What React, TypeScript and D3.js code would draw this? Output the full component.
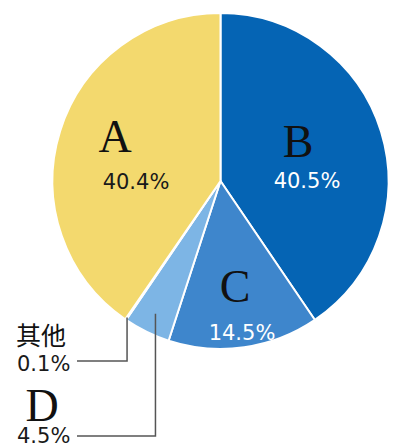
import React from "react";
import * as d3 from "d3";

const categories = ["B", "C", "D", "其他", "A"];
const values = [40.5, 14.5, 4.5, 0.1, 40.4];
const percentLabels = ["40.5%", "14.5%", "4.5%", "0.1%", "40.4%"];
const colors = ["#0564B4", "#3E86CC", "#7DB5E5", "#9CC4E8", "#F3D96E"];

export default function App() {
  const W = 406, H = 445;
  const cx = 220.5, cy = 181, R = 168;
  const pie = d3.pie<number>().sort(null).startAngle(0).endAngle(2 * Math.PI)(values);
  const arc = d3.arc<d3.PieArcDatum<number>>().innerRadius(0).outerRadius(R);
  const pt = (a: number, r: number) => [cx + r * Math.sin(a), cy - r * Math.cos(a)];
  const dMid = (pie[2].startAngle + pie[2].endAngle) / 2;
  const oMid = (pie[3].startAngle + pie[3].endAngle) / 2;
  const dP = pt(dMid, R * 0.88);
  const oP = pt(oMid, R * 0.985);
  const serif = "'Liberation Serif', 'Times New Roman', serif";
  const sans = "'DejaVu Sans', sans-serif";
  return (
    <svg width={W} height={H} style={{ position: "absolute", left: 0, top: 0, background: "#fff" }}>
      <g transform={`translate(${cx},${cy})`}>
        {pie.map((d, i) => (
          <path key={i} d={arc(d) || ""} fill={colors[i]} stroke="#fff" strokeWidth={2} strokeLinejoin="round" />
        ))}
      </g>
      {/* A */}
      <text x={115} y={152} fontFamily={serif} fontSize={46} textAnchor="middle" fill="#111">{categories[4]}</text>
      <text x={136} y={189} fontFamily={sans} fontSize={21} textAnchor="middle" fill="#1a1a1a">{percentLabels[4]}</text>
      {/* B */}
      <text x={298} y={157} fontFamily={serif} fontSize={46} textAnchor="middle" fill="#111">{categories[0]}</text>
      <text x={307} y={188} fontFamily={sans} fontSize={21} textAnchor="middle" fill="#fff">{percentLabels[0]}</text>
      {/* C */}
      <text x={235} y={302} fontFamily={serif} fontSize={46} textAnchor="middle" fill="#111">{categories[1]}</text>
      <text x={242} y={340} fontFamily={sans} fontSize={21} textAnchor="middle" fill="#fff">{percentLabels[1]}</text>
      {/* leaders */}
      <polyline points={`${oP[0]},${oP[1]} ${oP[0]},361 77,361`} fill="none" stroke="#555" strokeWidth={1.5} />
      <polyline points={`${dP[0]},${dP[1]} ${dP[0]},436 77,436`} fill="none" stroke="#555" strokeWidth={1.5} />
      {/* 其他 */}
      <text x={16} y={345} fontFamily="'Noto Sans CJK SC', sans-serif" fontSize={25} fill="#111">{categories[3]}</text>
      <text x={17} y={371} fontFamily={sans} fontSize={21} fill="#1a1a1a">{percentLabels[3]}</text>
      {/* D */}
      <text x={42} y={421} fontFamily={serif} fontSize={46} textAnchor="middle" fill="#111">{categories[2]}</text>
      <text x={17} y={443} fontFamily={sans} fontSize={21} fill="#1a1a1a">{percentLabels[2]}</text>
    </svg>
  );
}
